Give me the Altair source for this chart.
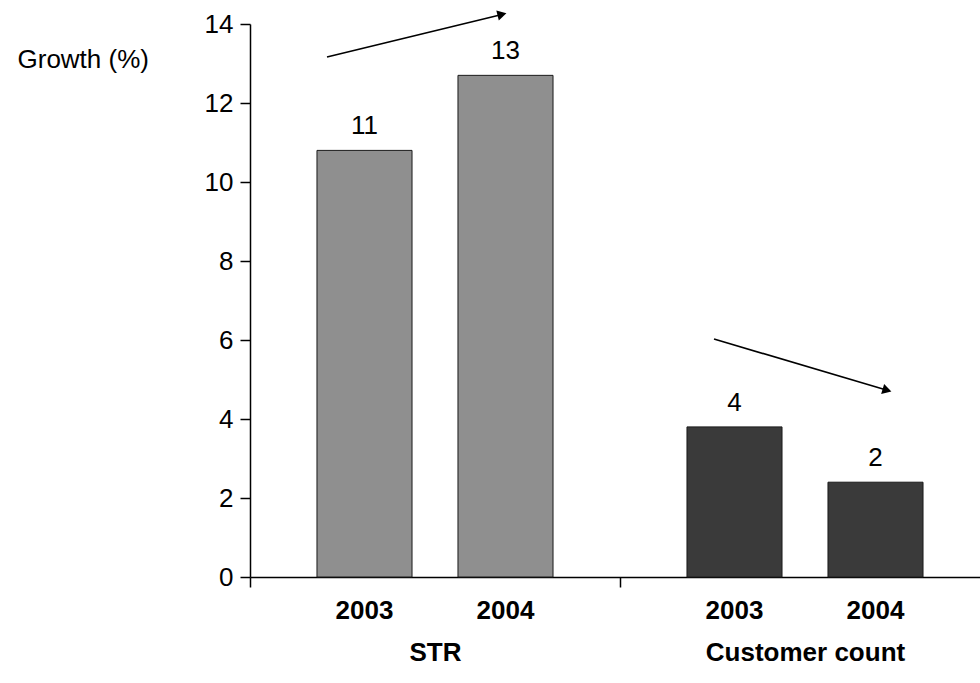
import altair as alt
import pandas as pd

# Growth by measure and year
groups = ["STR", "STR", "Customer count", "Customer count"]
years = ["2003", "2004", "2003", "2004"]
growth = [10.8, 12.7, 3.8, 2.4]

group_order = ["STR", "Customer count"]
bar_colors = ["#8f8f8f", "#3a3a3a"]
y_ticks = [0, 2, 4, 6, 8, 10, 12, 14]

df = pd.DataFrame({"group": groups, "year": years, "growth": growth})

FONT = "Liberation Sans"
FS = 26
W, H = 730, 553

x_enc = alt.X(
    "group:N",
    sort=group_order,
    scale=alt.Scale(domain=group_order, range=[0, 740], paddingInner=0, paddingOuter=0),
    axis=alt.Axis(
        title=None, labelAngle=0, labelFont=FONT, labelFontSize=FS, labelFontWeight="bold",
        labelColor="black", labelBaseline="alphabetic", labelPadding=73, labelLimit=0,
        tickBand="extent", tickSize=10, tickColor="black", tickWidth=1.5,
        domainColor="black", domainWidth=1.5,
    ),
)
xoff_enc = alt.XOffset("year:N", scale=alt.Scale(paddingInner=0.326, paddingOuter=0.475))
y_enc = alt.Y(
    "growth:Q",
    scale=alt.Scale(domain=[0, 14], nice=False),
    axis=alt.Axis(
        values=y_ticks, grid=False, title="Growth (%)", titleAngle=0, titleX=-233, titleY=43,
        titleAlign="left", titleBaseline="alphabetic", titleFont=FONT, titleFontSize=FS,
        titleFontWeight="normal", titleColor="black", labelFont=FONT, labelFontSize=FS,
        labelColor="black", labelPadding=7, tickSize=10, tickColor="black", tickWidth=1.5,
        domainColor="black", domainWidth=1.5,
    ),
)
color_enc = alt.Color("group:N", scale=alt.Scale(domain=group_order, range=bar_colors), legend=None)

base = alt.Chart(df)

bars = base.mark_bar(stroke="#1a1a1a", strokeWidth=1).encode(
    x=x_enc, xOffset=xoff_enc, y=y_enc, color=color_enc
)

values = base.mark_text(dy=-16, baseline="alphabetic", font=FONT, fontSize=FS, color="black").encode(
    x=x_enc, xOffset=xoff_enc, y=y_enc, text=alt.Text("growth:Q", format=".0f")
)

year_labels = base.mark_text(baseline="alphabetic", font=FONT, fontSize=FS, fontWeight="bold",
                             color="black").encode(
    x=x_enc, xOffset=xoff_enc, y=alt.value(H + 42), text="year:N"
)

# Trend arrows above each pair of bars
one = alt.Chart(pd.DataFrame({"k": [0]}))
up_line = one.mark_rule(color="black", strokeWidth=1.6).encode(
    x=alt.value(77), y=alt.value(33), x2=alt.value(253), y2=alt.value(-9.8)
)
up_head = one.mark_point(shape="triangle-right", filled=True, size=110, angle=346.3,
                         color="black", opacity=1).encode(x=alt.value(252), y=alt.value(-9.6))
down_line = one.mark_rule(color="black", strokeWidth=1.6).encode(
    x=alt.value(464), y=alt.value(315), x2=alt.value(638), y2=alt.value(366.5)
)
down_head = one.mark_point(shape="triangle-right", filled=True, size=110, angle=16.5,
                           color="black", opacity=1).encode(x=alt.value(637), y=alt.value(366.3))

chart = alt.layer(bars, values, year_labels, up_line, up_head, down_line, down_head).properties(
    width=W,
    height=H,
    autosize=alt.AutoSizeParams(type="none"),
    padding={"left": 250, "top": 24, "right": 0, "bottom": 106},
    background="white",
).configure_view(stroke=None)

chart.save("out.html", embed_options={"renderer": "svg", "actions": False})
